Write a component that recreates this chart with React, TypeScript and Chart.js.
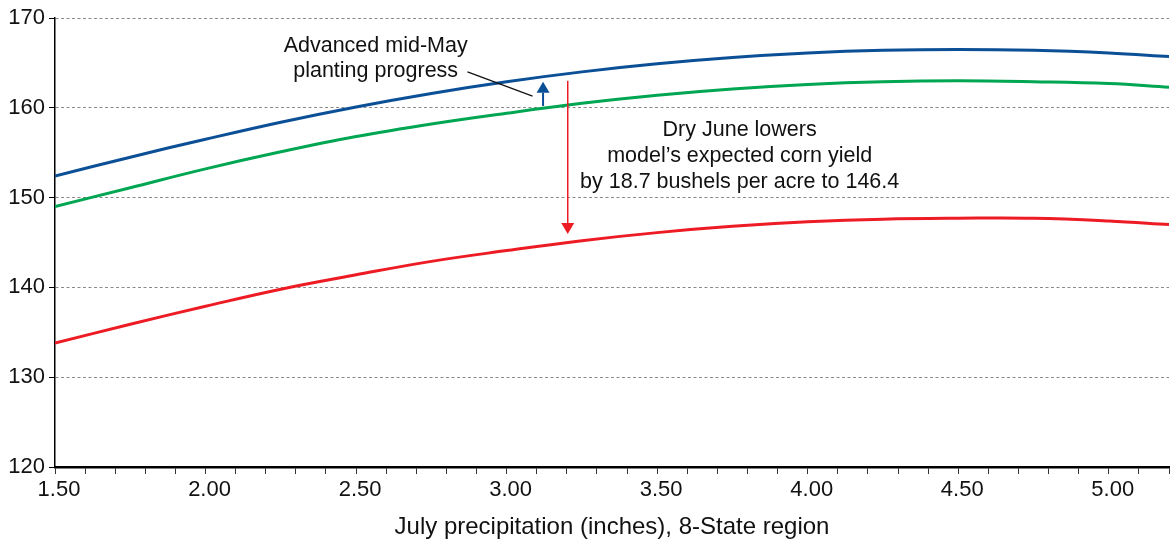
import { useEffect, useRef } from "react";
import { Chart, registerables } from "chart.js";

Chart.register(...registerables);

// July precipitation (inches), 8-State region
const precipitation = [1.5, 1.75, 2.0, 2.25, 2.5, 2.75, 3.0, 3.25, 3.5, 3.75, 4.0, 4.25, 4.5, 4.75, 5.0, 5.2];

// expected corn yield, bushels per acre
const advancedPlanting = [152.4, 154.5, 156.5, 158.4, 160.1, 161.6, 162.9, 164.0, 164.9, 165.6, 166.1, 166.4, 166.5, 166.4, 166.1, 165.7];
const baseModel = [149.0, 151.1, 153.2, 155.1, 156.8, 158.2, 159.4, 160.5, 161.4, 162.1, 162.6, 162.9, 163.0, 162.9, 162.7, 162.3];
const dryJune = [133.8, 135.9, 137.9, 139.8, 141.4, 142.9, 144.1, 145.2, 146.1, 146.8, 147.3, 147.6, 147.7, 147.7, 147.4, 147.0];

const yTicks = [120, 130, 140, 150, 160, 170];

const FONT = '"Liberation Sans", Arial, Helvetica, sans-serif';
const BLUE = "#0b4f96";
const GREEN = "#00a651";
const RED = "#ed1c24";

function toPoints(values: number[]) {
  return values.map((v, i) => ({ x: precipitation[i], y: v }));
}

function arrow(ctx: CanvasRenderingContext2D, x: number, from: number, tip: number, color: string, width: number) {
  const dir = tip < from ? 1 : -1; // 1 = pointing up
  const headH = 11;
  const headW = 6.5;
  ctx.strokeStyle = color;
  ctx.fillStyle = color;
  ctx.lineWidth = width;
  ctx.beginPath();
  ctx.moveTo(x, from);
  ctx.lineTo(x, tip + dir * headH);
  ctx.stroke();
  ctx.beginPath();
  ctx.moveTo(x, tip);
  ctx.lineTo(x - headW, tip + dir * headH);
  ctx.lineTo(x + headW, tip + dir * headH);
  ctx.closePath();
  ctx.fill();
}

const notes = {
  id: "notes",
  afterDatasetsDraw(chart: Chart) {
    const { ctx } = chart;
    const x = chart.scales.x;
    const y = chart.scales.y;
    const px = (v: number) => x.getPixelForValue(v);
    const py = (v: number) => y.getPixelForValue(v);
    ctx.save();

    // leader line for the planting note
    ctx.strokeStyle = "#111";
    ctx.lineWidth = 1.2;
    ctx.beginPath();
    ctx.moveTo(px(2.87), py(164.0));
    ctx.lineTo(px(3.086), py(161.3));
    ctx.stroke();

    arrow(ctx, px(3.121), py(160.2), py(162.9), BLUE, 2);
    arrow(ctx, px(3.203), py(163.0), py(145.95), RED, 1.5);

    ctx.fillStyle = "#111";
    ctx.font = `21.5px ${FONT}`;
    ctx.textAlign = "center";
    ctx.textBaseline = "alphabetic";
    ctx.fillText("Advanced mid-May", px(2.565), py(166.25));
    ctx.fillText("planting progress", px(2.565), py(163.4));

    ctx.fillText("Dry June lowers", px(3.774), py(156.9));
    ctx.fillText("model\u2019s expected corn yield", px(3.774), py(154.0));
    ctx.fillText("by 18.7 bushels per acre to 146.4", px(3.774), py(151.1));
    ctx.restore();
  },
};

export default function App() {
  const canvasRef = useRef<HTMLCanvasElement>(null);

  useEffect(() => {
    const canvas = canvasRef.current;
    if (!canvas) return;

    const line = (label: string, data: number[], color: string) => ({
      label,
      data: toPoints(data),
      borderColor: color,
      backgroundColor: color,
      borderWidth: 3,
      pointRadius: 0,
      tension: 0.4,
    });

    const chart = new Chart(canvas, {
      type: "line",
      data: {
        datasets: [
          line("Dry June", dryJune, RED),
          line("Base model", baseModel, GREEN),
          line("Advanced mid-May planting", advancedPlanting, BLUE),
        ],
      },
      options: {
        animation: false,
        responsive: true,
        maintainAspectRatio: false,
        layout: { padding: { top: 18, right: 5, left: 0, bottom: 0 } },
        plugins: { legend: { display: false }, tooltip: { enabled: false } },
        scales: {
          x: {
            type: "linear",
            min: 1.5,
            max: 5.2,
            afterFit: (s) => {
              s.height = 79;
            },
            grid: { drawOnChartArea: false, tickLength: 7, tickColor: "#333", tickWidth: 1 },
            border: { color: "#000", width: 2.5 },
            ticks: {
              stepSize: 0.1,
              autoSkip: false,
              maxRotation: 0,
              padding: 3,
              labelOffset: 4,
              color: "#111",
              font: { family: FONT, size: 22 },
              callback: (value) => {
                const v = Math.round(Number(value) * 100);
                return v % 50 === 0 ? (v / 100).toFixed(2) : "";
              },
            },
            title: {
              display: true,
              text: "July precipitation (inches), 8-State region",
              color: "#111",
              font: { family: FONT, size: 24 },
              padding: { top: 0, bottom: 4 },
            },
          },
          y: {
            min: 120,
            max: 170,
            afterFit: (s) => {
              s.width = 55;
            },
            afterBuildTicks: (s) => {
              s.ticks = yTicks.map((v) => ({ value: v }));
            },
            grid: {
              color: (c) => (c.tick && c.tick.value === 120 ? "rgba(0,0,0,0)" : "#8a8a8a"),
              lineWidth: 1,
              tickLength: 6,
              tickColor: "#000",
              tickBorderDash: [],
            },
            border: { color: "#000", width: 1.5, dash: [3, 2.5] },
            ticks: {
              padding: 4,
              color: "#111",
              font: { family: FONT, size: 22 },
            },
          },
        },
      },
      plugins: [notes],
    });

    return () => chart.destroy();
  }, []);

  return (
    <div style={{ position: "fixed", left: 0, top: 0, width: 1174, height: 546, background: "#fff" }}>
      <canvas ref={canvasRef} />
    </div>
  );
}
